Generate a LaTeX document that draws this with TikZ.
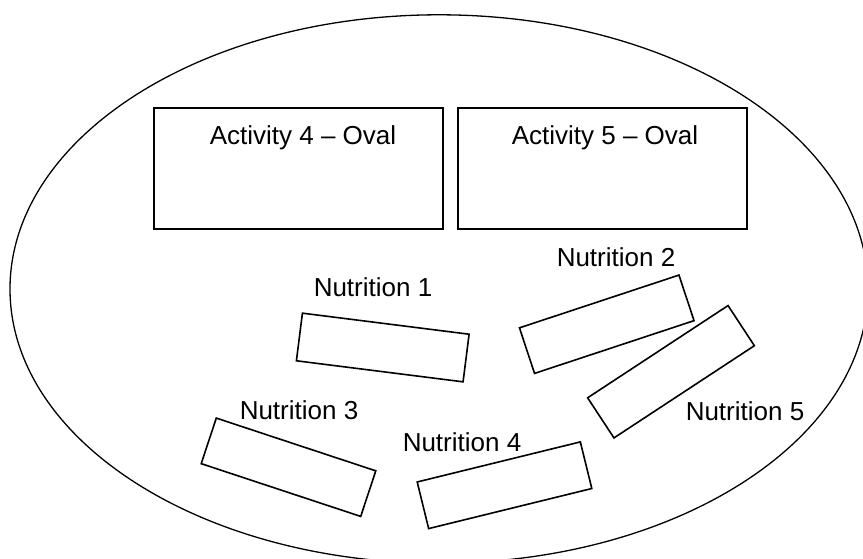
\documentclass[tikz,border=0pt]{standalone}
\usepackage{fontspec}
\setmainfont{Liberation Sans}

\begin{document}
\begin{tikzpicture}[x=1pt, y=-1pt,
  nutbox/.style={draw, line width=1.6pt, inner sep=0pt, minimum width=168pt, minimum height=48pt},
  actbox/.style={draw, line width=1.6pt, inner sep=0pt, minimum width=289pt, minimum height=121pt},
  lbl/.style={inner sep=0pt, font=\fontsize{26}{30}\selectfont, text depth=0pt}]
  \useasboundingbox (0,0) rectangle (863,559);
  \clip (0,0) rectangle (863,559);

  % ovale esterno
  \draw[line width=1.3pt] (439,289) ellipse [x radius=429pt, y radius=274.2pt];

  % attivita
  \node[actbox] (act4) at (298.5,168.5) {};
  \node[actbox] (act5) at (602.5,168.5) {};
  \node[lbl] (act4lbl) at (303,135) {Activity 4 – Oval};
  \node[lbl] (act5lbl) at (605,135) {Activity 5 – Oval};

  % nutrizione
  \node[nutbox, rotate=-7.2] (nut1) at (382.75,347.5) {};
  \node[nutbox, rotate=18.3] (nut2) at (606.75,324.25) {};
  \node[nutbox, rotate=-18.3] (nut3) at (288.5,467.25) {};
  \node[nutbox, rotate=13.8] (nut4) at (504.5,485.25) {};
  \node[nutbox, rotate=33.3] (nut5) at (671,371.75) {};

  \node[lbl] (nut1lbl) at (373,287) {Nutrition 1};
  \node[lbl] (nut2lbl) at (616,257) {Nutrition 2};
  \node[lbl] (nut3lbl) at (299,410) {Nutrition 3};
  \node[lbl] (nut4lbl) at (462,442) {Nutrition 4};
  \node[lbl] (nut5lbl) at (745,411) {Nutrition 5};
\end{tikzpicture}
\end{document}
